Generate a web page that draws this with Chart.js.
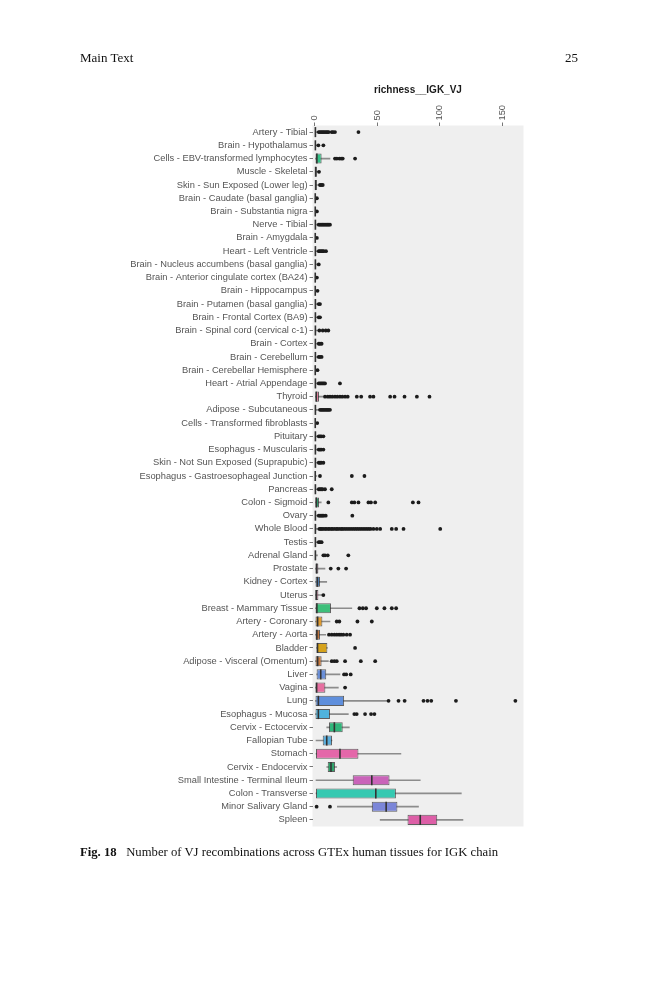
<!DOCTYPE html>
<html>
<head>
<meta charset="utf-8">
<title>richness__IGK_VJ</title>
<script src="https://cdn.jsdelivr.net/npm/chart.js@4.4.1/dist/chart.umd.min.js"></script>
<style>
    body { margin: 0; background: #fff; width: 659px; height: 1000px; position: relative; overflow: hidden; }
    #boxChart { position: absolute; left: 0; top: 0; }
    .page { position: absolute; font-family: 'Liberation Serif', 'Times New Roman', serif; font-size: 13px; color: #111; white-space: nowrap; }
</style>
</head>
<body>
<canvas id="boxChart" width="659" height="1000"></canvas>
<div class="page" style="left:80px; top:50px;">Main Text</div>
<div class="page" style="left:565px; top:50px;">25</div>
<div class="page" style="left:80px; top:845px; font-size:12.7px;"><b>Fig. 18</b>&nbsp;&nbsp;&nbsp;Number of VJ recombinations across GTEx human tissues for IGK chain</div>

<script>
// tissues, top to bottom
const tissues = [
    'Artery - Tibial', 'Brain - Hypothalamus', 'Cells - EBV-transformed lymphocytes', 'Muscle - Skeletal',
    'Skin - Sun Exposed (Lower leg)', 'Brain - Caudate (basal ganglia)', 'Brain - Substantia nigra', 'Nerve - Tibial',
    'Brain - Amygdala', 'Heart - Left Ventricle', 'Brain - Nucleus accumbens (basal ganglia)',
    'Brain - Anterior cingulate cortex (BA24)', 'Brain - Hippocampus', 'Brain - Putamen (basal ganglia)',
    'Brain - Frontal Cortex (BA9)', 'Brain - Spinal cord (cervical c-1)', 'Brain - Cortex', 'Brain - Cerebellum',
    'Brain - Cerebellar Hemisphere', 'Heart - Atrial Appendage', 'Thyroid', 'Adipose - Subcutaneous',
    'Cells - Transformed fibroblasts', 'Pituitary', 'Esophagus - Muscularis', 'Skin - Not Sun Exposed (Suprapubic)',
    'Esophagus - Gastroesophageal Junction', 'Pancreas', 'Colon - Sigmoid', 'Ovary', 'Whole Blood', 'Testis',
    'Adrenal Gland', 'Prostate', 'Kidney - Cortex', 'Uterus', 'Breast - Mammary Tissue', 'Artery - Coronary',
    'Artery - Aorta', 'Bladder', 'Adipose - Visceral (Omentum)', 'Liver', 'Vagina', 'Lung', 'Esophagus - Mucosa',
    'Cervix - Ectocervix', 'Fallopian Tube', 'Stomach', 'Cervix - Endocervix', 'Small Intestine - Terminal Ileum',
    'Colon - Transverse', 'Minor Salivary Gland', 'Spleen'
];

// box stats
const whiskerLo = [0, 0, 0, 0, 0, 0, 0, 0, 0, 0, 0, 0, 0, 0, 0, 0, 0, 0, 0, 0, 0, 0, 0, 0, 0, 0, 0, 0, 0, 0, 0, 0, 0, 0, 0, 0, 0, 0, 0, 1.3, 0, 1.3, 0, 0, 0, 9.4, 0.8, 0.8, 9.4, 0.8, 0.8, 17.9, 52.2];
const q1 = [0, 0, 0, 0, 0, 0, 0, 0, 0, 0, 0, 0, 0, 0, 0, 0, 0, 0, 0, 0, 0, 0, 0, 0, 0, 0, 0, 0, 0, 0, 0, 0, 0, 0, 0, 0, 0, 0, 0, 1.3, 0, 1.3, 0, 0, 0, 11.2, 6.2, 0.8, 10.2, 30.2, 0.8, 45.5, 74.1];
const median = [0.3, 0.3, 1.5, 0.5, 0.5, 0.2, 0.2, 0.3, 0.2, 0.3, 0.3, 0.2, 0.2, 0.3, 0.3, 0.3, 0.3, 0.3, 0.2, 0.3, 1, 0.3, 0.2, 0.3, 0.3, 0.3, 0.2, 0.3, 1, 0.3, 0.3, 0.3, 0.3, 1.3, 1.9, 1, 1.5, 2.1, 1.5, 2, 2.1, 4.6, 1.3, 2.7, 2.7, 15.5, 9.4, 20, 12.8, 45.5, 48.7, 57, 84.3];
const q3 = [1, 0.8, 5.3, 1.5, 1.5, 0.6, 0.6, 1, 0.6, 1, 1, 0.6, 0.6, 1, 1, 1, 1, 1, 0.6, 1, 3.2, 1, 0.6, 1, 1, 1, 0.6, 1, 3.2, 1, 1, 1, 1, 2.7, 4, 2.7, 12.8, 5.9, 4, 9.9, 5.3, 9, 8.3, 23.3, 12, 22.2, 13.6, 34.8, 16, 59.7, 64.8, 66, 97.9];
const whiskerHi = [2, 2, 12, 2.5, 3, 1, 1, 2, 1, 2, 2, 1, 1.5, 2, 2, 2.5, 2, 2, 1, 2, 6.7, 3, 1, 2, 2, 2, 1.5, 2, 5, 2, 3, 2, 2, 8, 9.4, 5.3, 29.5, 12, 8.6, 9.9, 10.7, 20, 18.7, 57.3, 26.7, 27.5, 13.6, 68.8, 17.4, 84.3, 117.2, 82.9, 118.5];

// outlying samples per tissue
const outliers = [
    [3, 4, 5, 6, 7, 8, 9, 10, 11, 13.4, 14.5, 16, 34.8],
    [2.7, 6.7],
    [16, 17.5, 19.5, 21, 22.2, 32.1],
    [3.2],
    [4, 5, 6.2],
    [1.5],
    [1.5],
    [3, 4, 5, 6, 7, 8, 9, 10, 11, 12],
    [1.5],
    [3, 4, 5, 6, 7, 8.8],
    [3],
    [1.5],
    [2],
    [3, 4],
    [3, 4],
    [3.5, 6.2, 8.6, 10.7],
    [3, 4, 5.3],
    [3, 4, 5.3],
    [2],
    [3, 4, 5, 6, 7, 8, 20],
    [8, 10.2, 12, 13.9, 16, 17.9, 20, 21.9, 24.1, 26.2, 33.5, 37, 44.1, 46.8, 60.2, 63.7, 71.7, 81.6, 91.7],
    [4, 5, 6, 7, 8, 9, 10, 11, 12],
    [1.8],
    [3, 4, 5, 6.7],
    [3, 4, 5, 6.7],
    [3, 4, 5, 6.7],
    [4, 29.5, 39.6],
    [3, 4, 5, 6, 8, 13.4],
    [10.7, 29.5, 31.5, 34.8, 42.8, 44.8, 48.2, 78.4, 82.9],
    [3, 4, 5, 6, 7, 8.6, 29.9],
    [3.5, 4.5, 5.5, 6.5, 8, 9, 10.5, 11.5, 13, 14, 15.5, 17, 18, 19.5, 21, 22, 23.5, 25, 26.5, 28, 29.5, 31, 32.5,
     34, 35.5, 37, 38.5, 40, 41.5, 43, 44.5, 46.8, 49.5, 52.2, 61.5, 65, 70.9, 100.3],
    [3, 4, 5.3],
    [6.7, 8, 10.2, 26.7],
    [12.6, 18.7, 24.9],
    [],
    [6.7],
    [35.6, 38.3, 40.9, 49.5, 55.6, 61.5, 65],
    [17.4, 19.5, 34, 45.5],
    [11.2, 13.4, 15.5, 17.4, 19.3, 20.9, 22.7, 25.4, 28.1],
    [32.1],
    [13.4, 15.5, 17.4, 24.1, 36.7, 48.2],
    [23.3, 25, 28.6],
    [24.1],
    [58.9, 66.9, 71.8, 86.9, 90.1, 93.1, 112.9, 160.5],
    [31.5, 33.4, 40.1, 44.9, 47.6],
    [],
    [],
    [],
    [],
    [],
    [],
    [1.3, 12],
    []
];

const boxColors = [
    '#d9534f', '#c9c93a', '#33c387', '#7a6fd0', '#2f6fd0', '#c9c93a', '#c9c93a', '#f2c500', '#c9c93a', '#7a3d8f',
    '#c9c93a', '#c9c93a', '#c9c93a', '#c9c93a', '#c9c93a', '#c9c93a', '#c9c93a', '#c9c93a', '#c9c93a', '#8a3d8f',
    '#e8839f', '#e89a3d', '#7ab9e0', '#9ad46a', '#b88a5a', '#3f6fd0', '#c49a6a', '#9a6a3a', '#2e9b6a', '#f0a0c8',
    '#d070d0', '#a8a8a8', '#8fb73e', '#b97c9c', '#4f89c7', '#d4789e', '#3ebf7a', '#e09a2e', '#c0733a', '#d5a21c',
    '#c87a3f', '#6a8fd8', '#e66fa0', '#5f8fdc', '#4fb3dd', '#2fb57a', '#5aaedc', '#e467a9', '#2ea36a', '#c964b9',
    '#35c9b1', '#7b86d8', '#dd5fa7'
];

const xTicks = [0, 50, 100, 150];

const outlierPoints = [];
outliers.forEach((vals, i) => {
    vals.forEach(v => outlierPoints.push({ x: v, y: tissues[i] }));
});

// grey panel behind the boxes
const panelPlugin = {
    id: 'panel',
    beforeDraw(chart) {
        const a = chart.chartArea;
        const c = chart.ctx;
        c.save();
        c.fillStyle = '#efefef';
        c.fillRect(a.left, a.top, a.right - a.left, a.bottom - a.top);
        c.restore();
    }
};

// median line across each box
const medianPlugin = {
    id: 'medianLines',
    afterDatasetsDraw(chart) {
        const xs = chart.scales.x;
        const ys = chart.scales.y;
        const boxMeta = chart.getDatasetMeta(1);
        const c = chart.ctx;
        c.save();
        c.strokeStyle = '#333';
        c.lineWidth = 1.6;
        median.forEach((m, i) => {
            const h = boxMeta.data[i].height;
            const yc = ys.getPixelForValue(i);
            const xp = xs.getPixelForValue(m);
            c.beginPath();
            c.moveTo(xp, yc - h / 2);
            c.lineTo(xp, yc + h / 2);
            c.stroke();
        });
        c.restore();
    }
};

const ctx = document.getElementById('boxChart').getContext('2d');
new Chart(ctx, {
    type: 'bar',
    data: {
        labels: tissues,
        datasets: [
            {
                label: 'whisker',
                data: tissues.map((t, i) => [whiskerLo[i], whiskerHi[i]]),
                backgroundColor: '#8c8c8c',
                barThickness: 1,
                grouped: false,
                order: 3
            },
            {
                label: 'box',
                data: tissues.map((t, i) => [q1[i], q3[i]]),
                backgroundColor: boxColors,
                borderColor: 'rgba(45,45,45,0.75)',
                borderWidth: 1,
                borderSkipped: false,
                barPercentage: 0.76,
                categoryPercentage: 1,
                grouped: false,
                order: 2
            },
            {
                label: 'outliers',
                type: 'line',
                indexAxis: 'y',
                showLine: false,
                data: outlierPoints,
                pointRadius: 1.9,
                pointBackgroundColor: '#1c1c1c',
                pointBorderWidth: 0,
                order: 1
            }
        ]
    },
    options: {
        indexAxis: 'y',
        responsive: false,
        animation: false,
        layout: { padding: { left: 0, right: 135.5, top: 83, bottom: 173.5 } },
        scales: {
            x: {
                type: 'linear',
                position: 'top',
                min: -2,
                max: 167,
                afterBuildTicks: scale => { scale.ticks = xTicks.map(v => ({ value: v })); },
                afterFit: scale => { scale.height = 42.5; },
                ticks: {
                    minRotation: 90,
                    maxRotation: 90,
                    padding: 2,
                    labelOffset: 11,
                    color: '#555',
                    font: { family: 'Liberation Sans, Arial, sans-serif', size: 9.3 }
                },
                grid: { display: true, drawOnChartArea: false, drawTicks: true, tickLength: 3, color: '#777' },
                border: { display: false },
                title: {
                    display: true,
                    text: 'richness__IGK_VJ',
                    color: '#1a1a1a',
                    padding: { top: 1, bottom: 0 },
                    font: { family: 'Liberation Sans, Arial, sans-serif', size: 10, weight: 'bold' }
                }
            },
            y: {
                type: 'category',
                afterFit: scale => { scale.width = 312.5; },
                ticks: {
                    autoSkip: false,
                    padding: 2,
                    color: '#555',
                    font: { family: 'Liberation Sans, Arial, sans-serif', size: 9.3 }
                },
                grid: { display: true, offset: false, drawOnChartArea: false, drawTicks: true, tickLength: 3, color: '#777' },
                border: { display: false }
            }
        },
        plugins: {
            legend: { display: false },
            tooltip: { enabled: false },
            title: { display: false }
        }
    },
    plugins: [panelPlugin, medianPlugin]
});
</script>
</body>
</html>
